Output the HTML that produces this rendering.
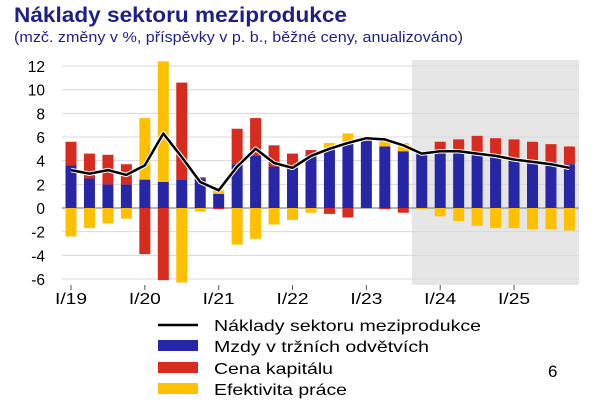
<!DOCTYPE html>
<html><head><meta charset="utf-8"><style>
html,body{margin:0;padding:0;background:#fff;}
svg{display:block;font-family:"Liberation Sans",Arial,sans-serif;}
</style></head><body>
<svg id="c" width="600" height="408" viewBox="0 0 600 408" xmlns="http://www.w3.org/2000/svg">
<rect width="600" height="408" fill="#fff"/>
<text x="14" y="22" font-size="21" font-weight="bold" fill="#1f1f8a" textLength="333" lengthAdjust="spacingAndGlyphs">Náklady sektoru meziprodukce</text>
<text x="14" y="42" font-size="15" fill="#1f1f8a" textLength="449" lengthAdjust="spacingAndGlyphs">(mzč. změny v %, příspěvky v p. b., běžné ceny, anualizováno)</text>
<rect x="412" y="60" width="167" height="225" fill="#e6e6e6"/>
<g id="grid"></g>
<g id="bars"></g>
<g id="ln"></g>
<line x1="158" y1="325" x2="198" y2="325" stroke="#000" stroke-width="2.5"/>
<rect x="158" y="340" width="40" height="11" fill="#2626a6"/>
<rect x="158" y="362" width="40" height="11" fill="#d82b1f"/>
<rect x="158" y="383" width="40" height="11" fill="#ffc000"/>
<g font-size="16" fill="#000" lengthAdjust="spacingAndGlyphs">
<text x="214" y="331" textLength="267" lengthAdjust="spacingAndGlyphs">Náklady sektoru meziprodukce</text>
<text x="214" y="352" textLength="215" lengthAdjust="spacingAndGlyphs">Mzdy v tržních odvětvích</text>
<text x="214" y="374" textLength="119" lengthAdjust="spacingAndGlyphs">Cena kapitálu</text>
<text x="214" y="395" textLength="133" lengthAdjust="spacingAndGlyphs">Efektivita práce</text>
<text x="548" y="377" font-size="17">6</text>
</g>
</svg>
<script>
var NS="http://www.w3.org/2000/svg";
function el(p,t,a,txt){var e=document.createElementNS(NS,t);for(var k in a)e.setAttribute(k,a[k]);if(txt!==undefined)e.textContent=txt;document.getElementById(p).appendChild(e);return e;}
var Y0=208,U=11.83;function y(v){return Y0-v*U;}
for(var v=-6;v<=12;v+=2){
 el("grid","line",{x1:62,x2:579,y1:y(v),y2:y(v),stroke:v==0?"#888":"#d9d9d9","stroke-width":v==0?1.3:1});
 el("grid","text",{x:45,y:y(v)+6,"text-anchor":"end","font-size":"15.5",fill:"#000"},String(v));
}
var d=[[3.6,2.0,-2.4],[2.5,2.1,-1.7],[2.0,2.5,-1.3],[2.0,1.7,-0.9],[2.4,-3.9,5.2],[2.2,-6.1,10.2],[2.4,8.2,-6.3],[2.5,0.1,-0.3],[1.2,-0.1,0.3],[3.7,3.0,-3.1],[4.4,3.2,-2.6],[3.5,1.8,-1.4],[3.4,1.2,-1.0],[4.5,0.4,-0.4],[5.0,-0.5,0.5],[5.5,-0.8,0.8],[5.7,0,0.1],[5.2,-0.1,0.5],[4.8,-0.4,0.7],[4.6,0,-0.1],[4.7,0.9,-0.7],[4.7,1.1,-1.1],[4.5,1.6,-1.5],[4.4,1.5,-1.7],[4.2,1.6,-1.7],[4.0,1.6,-1.8],[3.9,1.5,-1.8],[3.7,1.5,-1.9]];
var L=[3.2,2.9,3.2,2.8,3.6,6.3,4.3,2.2,1.5,3.5,5.0,3.8,3.4,4.4,5.0,5.5,5.9,5.8,5.3,4.6,4.8,4.8,4.6,4.4,4.1,3.9,3.7,3.4];
var col=["#2626a6","#d82b1f","#ffc000"];var W=11;
function cx(i){return 71+i*18.46;}
for(var i=0;i<d.length;i++){var pos=0,neg=0;
 for(var j=0;j<3;j++){var v=d[i][j];if(v==0)continue;var a,b;
  if(v>0){a=pos;b=pos+v;pos=b;}else{a=neg;b=neg+v;neg=b;}
  var t=y(Math.max(a,b)),h=Math.abs(v)*U;
  el("bars","rect",{x:cx(i)-W/2,y:t,width:W,height:h,fill:col[j]});}
}
var pts=L.map(function(v,i){return cx(i).toFixed(1)+","+y(v).toFixed(1);}).join(" ");
el("ln","polyline",{points:pts,fill:"none",stroke:"#fff","stroke-width":4.5,"stroke-linejoin":"round"});
el("ln","polyline",{points:pts,fill:"none",stroke:"#000","stroke-width":2.5,"stroke-linejoin":"round"});
var lab=["I/19","I/20","I/21","I/22","I/23","I/24","I/25"];
for(var k=0;k<7;k++){var x=cx(k*4);
 el("ln","line",{x1:x,x2:x,y1:285,y2:290,stroke:"#555","stroke-width":1});
 el("ln","text",{x:x-16,y:304,"font-size":"16",fill:"#000",textLength:32,lengthAdjust:"spacingAndGlyphs"},lab[k]);}
</script>
</body></html>
